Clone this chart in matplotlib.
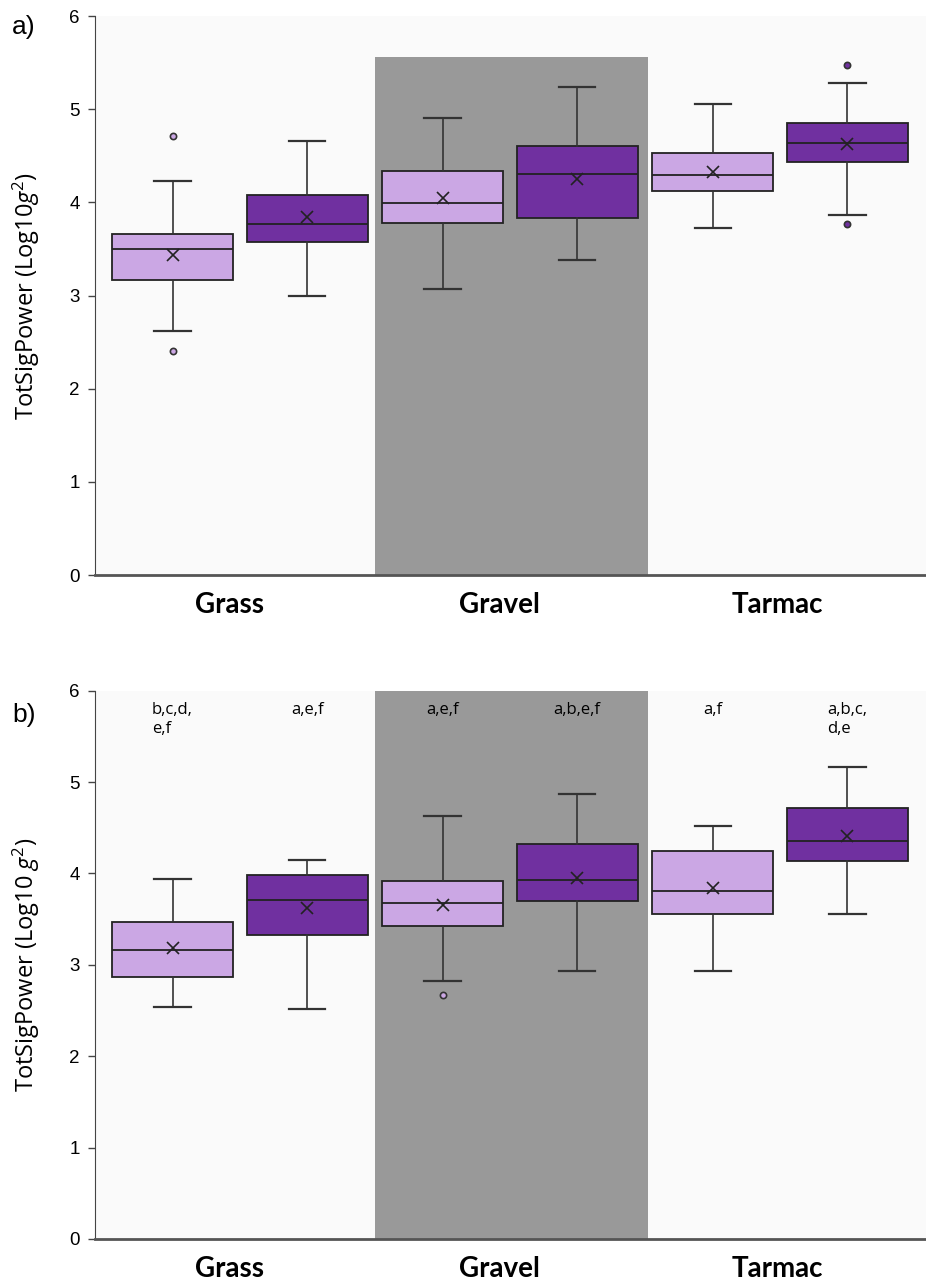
import matplotlib.pyplot as plt

plt.rcParams['mathtext.fontset'] = 'custom'
plt.rcParams['mathtext.rm'] = 'Open Sans'
plt.rcParams['mathtext.it'] = 'Open Sans:italic'

surfaces = ['Grass', 'Gravel', 'Tarmac']

# panel a: (light box, dark box) per surface
a_q1 = [[3.17, 3.58], [3.78, 3.83], [4.12, 4.43]]
a_med = [[3.495, 3.77], [3.99, 4.30], [4.29, 4.64]]
a_q3 = [[3.66, 4.08], [4.34, 4.61], [4.53, 4.85]]
a_lo = [[2.62, 2.99], [3.07, 3.38], [3.73, 3.86]]
a_hi = [[4.23, 4.66], [4.91, 5.24], [5.06, 5.28]]
a_mean = [[3.44, 3.84], [4.05, 4.25], [4.33, 4.63]]
a_out = [[[4.71, 2.40], []], [[], []], [[], [5.48, 3.77]]]

# panel b
b_q1 = [[2.87, 3.33], [3.42, 3.70], [3.555, 4.14]]
b_med = [[3.16, 3.71], [3.68, 3.93], [3.81, 4.36]]
b_q3 = [[3.465, 3.98], [3.92, 4.32], [4.25, 4.715]]
b_lo = [[2.535, 2.52], [2.82, 2.93], [2.93, 3.555]]
b_hi = [[3.935, 4.15], [4.63, 4.87], [4.515, 5.16]]
b_mean = [[3.18, 3.625], [3.655, 3.95], [3.84, 4.41]]
b_out = [[[], []], [[2.67], []], [[], []]]
b_letters = [['b,c,d,\ne,f', 'a,e,f'], ['a,e,f', 'a,b,e,f'], ['a,f', 'a,b,c,\nd,e']]

light = '#cba7e4'
dark = '#7030a0'
edge = '#222222'

fig = plt.figure(figsize=(9.26, 12.85), dpi=100)
ax_a = fig.add_axes([0.1026, 0.5525, 0.8974, 0.435])
ax_b = fig.add_axes([0.1026, 0.0358, 0.8974, 0.4267])


def draw_panel(ax, q1, med, q3, lo, hi, mean, out, shade_top, ylab):
    ax.set_facecolor('#fafafa')
    ax.axvspan(1.0, 2.01, ymin=0, ymax=shade_top / 6.0, color='#999999', zorder=0, lw=0)
    stats, pos, cols = [], [], []
    for i in range(3):
        for j in range(2):
            stats.append(dict(q1=q1[i][j], med=med[i][j], q3=q3[i][j],
                              whislo=lo[i][j], whishi=hi[i][j], mean=mean[i][j],
                              fliers=out[i][j]))
            pos.append(i + 0.5 + (j - 0.5) * 0.498)
            cols.append(light if j == 0 else dark)
    bp = ax.bxp(stats, positions=pos, widths=0.448, patch_artist=True, showmeans=True,
                capwidths=0.135,
                boxprops=dict(edgecolor=edge, linewidth=1.3),
                medianprops=dict(color=edge, linewidth=1.3),
                whiskerprops=dict(color='#333333', linewidth=1.2),
                capprops=dict(color='#333333', linewidth=1.6),
                meanprops=dict(marker='x', markeredgecolor=edge, markersize=9, markeredgewidth=1.2),
                flierprops=dict(marker='o', markersize=4.5, markeredgecolor='#333333',
                                markeredgewidth=1.2))
    for patch, c in zip(bp['boxes'], cols):
        patch.set_facecolor(c)
    for fl, c in zip(bp['fliers'], cols):
        fl.set_markerfacecolor(c)

    ax.set_xlim(-0.036, 3.04)
    ax.set_ylim(0, 6)
    ax.set_yticks(range(7))
    ax.set_xticks([0.46, 1.46, 2.49])
    ax.set_xticklabels(surfaces, fontsize=20, fontweight='bold', family='Lato')
    ax.tick_params(axis='x', length=0, pad=12)
    ax.tick_params(axis='y', direction='out', length=5, width=1, color='#444444',
                   labelsize=13.5, pad=6)
    for t in ax.get_yticklabels():
        t.set_family('Liberation Sans')
    for s in ['top', 'right']:
        ax.spines[s].set_visible(False)
    ax.spines['left'].set_color('#444444')
    ax.spines['bottom'].set_color('#555555')
    ax.spines['bottom'].set_linewidth(2)
    ax.set_ylabel(ylab, fontsize=17, family='Open Sans')
    ax.yaxis.set_label_coords(-0.064, 0.5)
    return pos


draw_panel(ax_a, a_q1, a_med, a_q3, a_lo, a_hi, a_mean, a_out, 5.56,
           'TotSigPower (Log10$g^2$)')
pos_b = draw_panel(ax_b, b_q1, b_med, b_q3, b_lo, b_hi, b_mean, b_out, 6.0,
                   'TotSigPower (Log10 $g^2$)')

for k, txt in enumerate([t for row in b_letters for t in row]):
    ax_b.text(pos_b[k], 5.88, txt, ha='center', va='top', multialignment='left',
              fontsize=12, family='Open Sans', linespacing=1.3)

fig.text(12 / 926, 1 - 27 / 1285, 'a)', fontsize=19, family='Liberation Sans', va='center')
fig.text(12 / 926, 1 - 715 / 1285, 'b)', fontsize=19, family='Liberation Sans', va='center')

fig.savefig('out.png', dpi=100)
